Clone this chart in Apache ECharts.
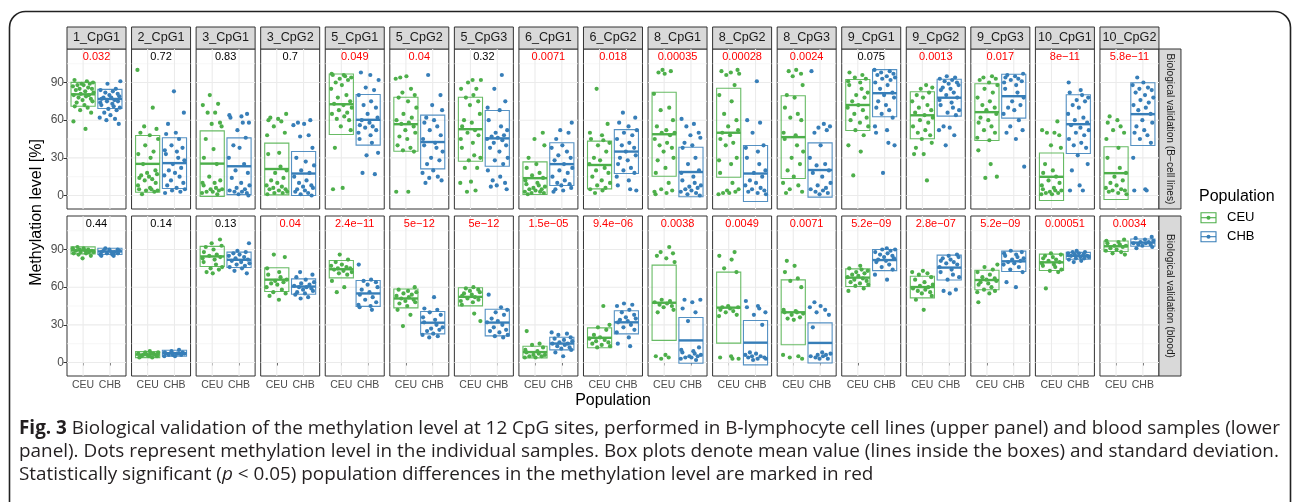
<!DOCTYPE html>
<html><head><meta charset="utf-8">
<script src="https://cdn.jsdelivr.net/npm/echarts@6/dist/echarts.min.js"></script>
<style>html,body{margin:0;padding:0;background:#fff}#c{width:1293px;height:502px}</style>
</head><body><div id="c"></div>
<script>
// ---------------- DATA ----------------
const SITES = ['1_CpG1','2_CpG1','3_CpG1','3_CpG2','5_CpG1','5_CpG2','5_CpG3','6_CpG1','6_CpG2','8_CpG1','8_CpG2','8_CpG3','9_CpG1','9_CpG2','9_CpG3','10_CpG1','10_CpG2'];
const ROWS = ['Biological validation (B\u2212cell lines)', 'Biological validation (blood)'];
const POPS = ['CEU', 'CHB'];
const Y_TICKS = [0, 30, 60, 90];
const Y_MINOR = [15, 45, 75, 105];

const P_BCELL = ['0.032','0.72','0.83','0.7','0.049','0.04','0.32','0.0071','0.018','0.00035','0.00028','0.0024','0.075','0.0013','0.017','8e\u221211','5.8e\u221211'];
const P_BLOOD = ['0.44','0.14','0.13','0.04','2.4e\u221211','5e\u221212','5e\u221212','1.5e\u221205','9.4e\u221206','0.0038','0.0049','0.0071','5.2e\u221209','2.8e\u221207','5.2e\u221209','0.00051','0.0034'];

// mean and standard deviation (box = mean +/- sd, line = mean)
const CEU_BCELL_MEAN = [80.6,25.2,25.4,21.1,72.7,56.8,52.8,13.8,24.3,48.8,50.0,46.5,72.1,63.9,66.4,14.9,17.8];
const CEU_BCELL_SD   = [9.5,22.6,26.1,20.6,24.1,21.5,25.5,13.0,19.0,33.5,35.4,33.0,20.3,18.7,22.6,18.9,21.0];
const CHB_BCELL_MEAN = [76.9,25.8,23.3,17.5,60.3,42.6,45.5,25.0,35.0,18.7,17.5,20.3,81.5,77.9,79.1,56.8,64.8];
const CHB_BCELL_SD   = [7.6,20.2,22.6,17.5,20.2,21.4,22.2,17.0,17.5,19.7,22.3,21.6,18.8,14.7,17.5,23.4,25.0];
const CEU_BLOOD_MEAN = [89.3,6.3,84.5,66.0,74.3,51.0,52.3,8.3,19.7,47.6,43.7,40.0,67.6,60.1,65.7,79.8,92.6];
const CEU_BLOOD_SD   = [2.8,2.4,8.0,9.5,6.9,7.5,7.2,4.6,7.9,30.0,28.3,25.8,7.0,8.6,7.8,6.5,4.2];
const CHB_BLOOD_MEAN = [88.5,7.4,81.8,60.5,55.0,31.7,31.8,15.1,32.0,17.6,15.8,15.6,81.6,75.6,80.6,85.0,95.5];
const CHB_BLOOD_SD   = [2.5,2.4,6.1,6.1,10.3,8.9,10.6,5.0,9.2,18.2,17.7,16.0,8.4,9.9,8.1,2.7,2.9];

// individual samples
const CEU_BCELL_PTS = [
 [92,91,90,89,89,88,88,87,86,85,85,84,83,82,81,80,80,79,78,77,76,75,74,72,71,70,68,66,59,53],
 [100,70,55,53,50,48,45,40,35,33,30,25,20,18,17,16,15,14,13,12,10,8,6,5,5,4,4,3,1],
 [80,73,72,66,66,58,57,55,45,37,30,25,15,12,10,10,8,6,5,5,4,3,3,2,1],
 [65,62,61,60,59,55,50,48,34,33,23,20,18,14,12,10,8,7,6,5,5,4,3,2,2,1],
 [97,96,96,95,94,93,92,90,88,85,80,78,75,73,72,70,68,66,65,63,61,60,55,52,38,6,5],
 [94,95,93,85,82,80,78,75,70,65,62,60,58,57,55,52,50,47,45,40,38,36,35,3,3],
 [92,92,90,85,85,80,78,75,72,65,60,58,55,52,50,48,45,42,38,32,30,28,22,22,11,10,4,3],
 [50,45,40,30,25,22,18,16,14,12,10,9,8,7,6,5,5,4,3,3,2,2,1],
 [85,57,50,48,45,44,42,40,35,30,28,25,22,20,18,15,12,10,8,6,5,4,2],
 [100,99,98,97,81,70,68,60,55,52,50,50,48,45,42,40,38,35,30,28,22,18,10,5,4,3,2,1],
 [100,99,98,97,96,88,80,75,65,60,55,52,50,48,45,42,40,30,28,25,18,10,5,4,3,2,2,1],
 [100,99,97,95,88,80,78,70,65,62,60,50,48,45,40,35,30,25,20,15,10,8,5,3,2],
 [98,96,94,93,91,90,88,85,82,80,78,75,72,70,68,65,62,60,58,55,52,48,40,35,16],
 [88,86,85,82,80,78,75,72,70,68,66,64,62,60,58,55,52,50,48,45,42,38,33,33,12],
 [95,94,93,92,90,88,85,82,78,75,72,70,68,65,62,60,58,55,52,50,46,44,36,25,15,14],
 [59,52,50,50,48,40,38,25,20,18,15,12,10,8,6,5,4,4,3,2,2,1,1],
 [63,60,58,55,52,50,45,38,30,22,18,15,12,10,8,6,5,4,4,3,2,1]
];
const CHB_BCELL_PTS = [
 [91,89,85,84,83,82,81,80,79,78,78,77,76,75,75,74,73,72,71,70,69,68,66,64,62,61,60,57],
 [83,66,57,50,49,45,40,38,36,35,33,30,28,25,22,20,18,16,15,12,10,8,6,5,4,3,2],
 [65,64,63,62,58,58,52,46,40,38,30,25,20,18,14,10,8,6,5,4,3,3,2,1,0],
 [60,58,57,56,48,47,38,30,27,24,20,18,15,12,10,8,7,6,5,4,3,2,1,0],
 [98,96,92,86,84,80,75,72,70,65,62,60,58,56,55,54,52,50,48,45,42,34,32,17,18],
 [96,80,72,68,62,60,58,55,52,48,45,42,40,38,35,30,28,25,20,18,15,14,12,10],
 [96,85,75,70,68,60,55,52,50,48,47,46,45,44,42,40,38,35,30,28,25,20,15,12,10,8,5,7],
 [58,52,50,45,40,38,35,32,30,28,25,22,20,18,15,12,10,9,8,6,5,4,3],
 [66,62,58,55,52,50,48,45,42,40,38,35,32,30,28,25,22,20,18,15,12,8,5,4],
 [61,57,55,50,48,46,42,40,38,30,25,20,18,15,12,10,8,7,6,5,4,3,2,1,0],
 [91,60,58,50,40,38,35,30,25,20,18,15,12,10,8,6,5,4,3,2,1],
 [99,57,55,54,52,50,40,30,25,24,20,18,15,10,8,6,5,4,3,2,1],
 [100,99,98,97,96,95,94,93,92,90,88,85,82,80,78,75,72,70,68,65,62,55,52,50,42,40,18],
 [95,94,93,92,91,90,89,88,86,85,84,82,80,78,76,74,72,70,68,66,64,55,54,52,48,40],
 [97,96,95,94,93,92,91,90,88,85,82,78,75,72,70,68,65,60,55,52,50,45,23],
 [90,84,82,80,78,76,75,72,70,65,62,60,58,56,54,52,50,48,45,42,40,38,32,25,20,8,4,4],
 [94,90,88,86,85,84,82,80,78,76,74,72,70,68,65,60,58,55,52,50,48,45,42,30,5,4,4]
];
const CEU_BLOOD_PTS = [
 [92,91,91,90,90,89,89,89,88,88,88,87,87,86,85,83],
 [9,8,8,7,7,7,6,6,6,5,5,5,4,4],
 [98,95,93,92,90,88,86,85,84,83,82,80,78,76,75,74,72,71],
 [86,84,75,72,70,68,66,65,64,63,62,60,58,56,55,53,50],
 [86,82,80,78,77,76,75,75,74,73,72,71,70,65,60,56],
 [60,58,57,56,55,54,53,52,51,50,49,48,47,45,42,38,29],
 [60,59,58,57,56,55,54,53,52,51,50,49,48,46,39,33],
 [25,15,14,12,10,9,8,7,6,6,5,5,4,4],
 [45,30,28,26,22,20,19,18,17,16,15,14,13,12],
 [92,88,87,85,83,80,50,49,48,47,46,45,44,42,40,6,5,4,3],
 [88,85,82,75,72,45,44,44,43,42,41,40,38,37,5,4,3,3],
 [81,77,72,67,65,60,42,41,40,40,39,38,36,35,34,6,5,4,3],
 [77,75,74,73,72,71,70,69,68,67,66,65,64,63,62,61,59,57],
 [73,72,71,70,68,66,64,62,61,60,59,58,57,56,55,53,50,42],
 [78,76,74,72,70,68,67,66,65,64,63,62,60,58,57,56,55,48],
 [87,86,85,84,83,82,81,80,79,78,77,76,74,73,72,59],
 [98,97,96,95,94,93,93,92,91,90,89,88,87,86]
];
const CHB_BLOOD_PTS = [
 [91,90,90,89,89,88,88,88,87,87,86,86,85,85],
 [10,9,8,8,7,7,7,7,6,6,6,5,5],
 [95,89,88,87,86,85,84,83,82,81,80,79,78,77,76,75,73,71],
 [72,70,68,66,64,63,62,61,60,60,59,58,57,56,55,54,52,51],
 [78,66,65,64,62,60,58,56,54,52,50,48,46,45,44,42],
 [52,43,42,40,38,36,34,32,30,28,27,26,25,23,22,21,20],
 [54,44,42,40,38,35,33,32,30,28,26,25,24,22,21,20],
 [24,23,22,20,19,18,17,16,15,15,14,13,12,11,10,8,5],
 [47,46,45,42,40,38,36,35,34,33,32,30,28,26,24,20,15,13],
 [50,50,48,43,40,33,12,10,9,8,7,6,5,5,4,4,3,2],
 [49,45,44,43,40,38,30,8,7,6,5,5,4,4,3,3,2],
 [48,45,44,42,40,38,28,8,7,6,6,5,5,4,3,3],
 [91,90,90,89,88,87,86,85,84,83,82,81,80,78,76,74,70,66],
 [86,85,84,83,82,81,80,79,78,76,74,72,70,68,66,58,57,55],
 [89,88,87,86,85,84,83,82,81,80,79,78,76,74,72,64,60],
 [89,88,88,87,87,86,86,85,85,84,84,83,83,82,81,80],
 [100,99,98,97,96,96,95,95,94,94,93,92,91]
];

const CAPTION_1 = ' Biological validation of the methylation level at 12 CpG sites, performed in B-lymphocyte cell lines (upper panel) and blood samples (lower';
const CAPTION_2 = 'panel). Dots represent methylation level in the individual samples. Box plots denote mean value (lines inside the boxes) and standard deviation.';
const CAPTION_3a = 'Statistically significant (';
const CAPTION_3b = ' < 0.05) population differences in the methylation level are marked in red';

// ---------------- STYLE / LAYOUT ----------------
const COLORS = ['#4DAF4A', '#377EB8'];
const FONT = '"Liberation Sans", Arial, Helvetica, sans-serif';
const CAP_FONT = '"Open Sans", "Noto Sans", sans-serif';
const CAP_SIZE = 18.9;
const L = { left: 67, pitch: 64.56, pw: 59, rowTop: [49, 216], rowH: 160, stripH: 22, rStripW: 22 };
const Y_MIN = -10.75, Y_MAX = 116.7, X_MIN = 0.4, X_MAX = 2.6, BOX_HALF = 0.45, P_Y = 110.6;
// fixed jitter pattern (horizontal spread of dots inside each group)
const JITTER = [-0.32,0.14,0.37,-0.06,0.25,-0.21,0.02,-0.38,0.19,-0.13,0.33,-0.27,0.08,0.39,-0.09,0.22,-0.35,0.11,-0.17,0.29,-0.02,0.35,-0.24,0.05,-0.31,0.17,-0.11,0.3,-0.36,0.09];

const P_ROWS = [P_BCELL, P_BLOOD];
const MEANS = [[CEU_BCELL_MEAN, CHB_BCELL_MEAN], [CEU_BLOOD_MEAN, CHB_BLOOD_MEAN]];
const SDS = [[CEU_BCELL_SD, CHB_BCELL_SD], [CEU_BLOOD_SD, CHB_BLOOD_SD]];
const PTS = [[CEU_BCELL_PTS, CHB_BCELL_PTS], [CEU_BLOOD_PTS, CHB_BLOOD_PTS]];

const GRIDLINES = [
  ...Y_TICKS.map(v => [1, v, 0]),
  ...Y_MINOR.map(v => [1, v, 1]),
  ...[1, 2].map(v => [v, 0, 2])
];

function gridRender(params, api) {
  const t = api.value(2), cs = params.coordSys;
  if (t < 2) {
    const y = api.coord([1, api.value(1)])[1];
    return { type: 'line', shape: { x1: cs.x, y1: y, x2: cs.x + cs.width, y2: y },
      style: { stroke: t === 0 ? '#EBEBEB' : '#F4F4F4', lineWidth: t === 0 ? 1.1 : 0.7 } };
  }
  const x = api.coord([api.value(0), 0])[0];
  return { type: 'line', shape: { x1: x, y1: cs.y, x2: x, y2: cs.y + cs.height },
    style: { stroke: '#EBEBEB', lineWidth: 1.1 } };
}
function boxRender(params, api) {
  const x = api.value(0), m = api.value(1), s = api.value(2), g = api.value(3);
  const tl = api.coord([x - BOX_HALF, m + s]);
  const br = api.coord([x + BOX_HALF, m - s]);
  const ml = api.coord([x - BOX_HALF, m]);
  const mr = api.coord([x + BOX_HALF, m]);
  const col = COLORS[g];
  return { type: 'group', children: [
    { type: 'rect', shape: { x: tl[0], y: tl[1], width: br[0] - tl[0], height: br[1] - tl[1] },
      style: { fill: 'none', stroke: col, lineWidth: 1.1, opacity: 0.85 } },
    { type: 'line', shape: { x1: ml[0], y1: ml[1], x2: mr[0], y2: mr[1] },
      style: { stroke: col, lineWidth: 2.4 } }
  ]};
}

const grids = [], xAxes = [], yAxes = [], series = [], gfx = [];

ROWS.forEach((rowName, r) => {
  SITES.forEach((site, c) => {
    const i = r * SITES.length + c;
    const left = L.left + c * L.pitch;
    grids.push({ left: left, top: L.rowTop[r], width: L.pw, height: L.rowH, show: true,
      borderColor: '#333333', borderWidth: 1, backgroundColor: 'rgba(0,0,0,0)',
      containLabel: false, outerBoundsMode: 'none' });
    const bottom = r === ROWS.length - 1;
    xAxes.push({ type: 'value', gridIndex: i, min: X_MIN, max: X_MAX,
      splitLine: { show: false }, axisLine: { show: false },
      axisTick: bottom ? { show: true, customValues: [1, 2], length: 3, lineStyle: { color: '#333333', width: 1 } } : { show: false },
      axisLabel: bottom ? { show: true, customValues: [1, 2], formatter: v => POPS[Math.round(v) - 1],
        color: '#4D4D4D', fontSize: 10.5, fontFamily: FONT, margin: 4 } : { show: false } });
    const first = c === 0;
    yAxes.push({ type: 'value', gridIndex: i, min: Y_MIN, max: Y_MAX,
      splitLine: { show: false }, axisLine: { show: false },
      axisTick: first ? { show: true, customValues: Y_TICKS, length: 3.5, lineStyle: { color: '#333333', width: 1 } } : { show: false },
      axisLabel: first ? { show: true, customValues: Y_TICKS, color: '#4D4D4D', fontSize: 12, fontFamily: FONT, margin: 3 } : { show: false } });

    series.push({ type: 'custom', xAxisIndex: i, yAxisIndex: i, silent: true, z: 1,
      data: GRIDLINES, renderItem: gridRender });
    series.push({ type: 'custom', xAxisIndex: i, yAxisIndex: i, silent: true, z: 3,
      data: [0, 1].map(g => [g + 1, MEANS[r][g][c], SDS[r][g][c], g]), renderItem: boxRender });
    [0, 1].forEach(g => {
      const pts = PTS[r][g][c];
      series.push({ type: 'scatter', xAxisIndex: i, yAxisIndex: i, silent: true, z: 4,
        symbolSize: 4.2, itemStyle: { color: COLORS[g], opacity: 1 },
        data: pts.map((v, k) => [g + 1 + JITTER[(k + c * 7 + g * 13 + r * 5) % JITTER.length], v]) });
    });
    const pTxt = P_ROWS[r][c];
    const pNum = parseFloat(pTxt.replace('\u2212', '-'));
    series.push({ type: 'custom', xAxisIndex: i, yAxisIndex: i, silent: true, z: 5,
      data: [[1.5, P_Y]],
      renderItem: (params, api) => {
        const p = api.coord([api.value(0), api.value(1)]);
        return { type: 'text', x: p[0], y: p[1], style: { text: pTxt, fill: pNum < 0.05 ? '#FF0000' : '#000000',
          font: '11px ' + FONT, textAlign: 'center', textVerticalAlign: 'middle', align: 'center', verticalAlign: 'middle' } };
      } });

    if (r === 0) {
      gfx.push({ type: 'rect', shape: { x: left, y: L.rowTop[0] - L.stripH, width: L.pw, height: L.stripH },
        style: { fill: '#D9D9D9', stroke: '#333333', lineWidth: 1 } });
      gfx.push({ type: 'text', x: left + L.pw / 2, y: L.rowTop[0] - L.stripH / 2,
        style: { text: site, fill: '#1A1A1A', font: '12.6px ' + FONT, textAlign: 'center', textVerticalAlign: 'middle', align: 'center', verticalAlign: 'middle' } });
    }
  });
  // right strip
  const sx = L.left + (SITES.length - 1) * L.pitch + L.pw;
  gfx.push({ type: 'rect', shape: { x: sx, y: L.rowTop[r], width: L.rStripW, height: L.rowH },
    style: { fill: '#D9D9D9', stroke: '#333333', lineWidth: 1 } });
  gfx.push({ type: 'text', x: sx + L.rStripW / 2, y: L.rowTop[r] + L.rowH / 2, rotation: -Math.PI / 2,
    style: { text: rowName, fill: '#1A1A1A', font: '10.2px ' + FONT, textAlign: 'center', textVerticalAlign: 'middle', align: 'center', verticalAlign: 'middle' } });
});

const panelsMid = L.left + ((SITES.length - 1) * L.pitch + L.pw) / 2;
// axis titles
gfx.push({ type: 'text', x: 37, y: (L.rowTop[0] + L.rowTop[1] + L.rowH) / 2, rotation: Math.PI / 2,
  style: { text: 'Methylation level [%]', fill: '#000', font: '16px ' + FONT, textAlign: 'center', textVerticalAlign: 'middle', align: 'center', verticalAlign: 'middle' } });
gfx.push({ type: 'text', x: panelsMid, y: 401,
  style: { text: 'Population', fill: '#000', font: '16px ' + FONT, textAlign: 'center', textVerticalAlign: 'middle', align: 'center', verticalAlign: 'middle' } });
// legend
gfx.push({ type: 'text', x: 1199, y: 197,
  style: { text: 'Population', fill: '#000', font: '16px ' + FONT, textAlign: 'left', textVerticalAlign: 'middle', align: 'left', verticalAlign: 'middle' } });
POPS.forEach((p, g) => {
  const ky = 212.7 + g * 19;
  gfx.push({ type: 'rect', shape: { x: 1201, y: ky, width: 15, height: 10 }, style: { fill: '#fff', stroke: COLORS[g], lineWidth: 1.1 } });
  gfx.push({ type: 'line', shape: { x1: 1201, y1: ky + 5, x2: 1216, y2: ky + 5 }, style: { stroke: COLORS[g], lineWidth: 1.1 } });
  gfx.push({ type: 'circle', shape: { cx: 1208.5, cy: ky + 5, r: 2 }, style: { fill: COLORS[g] } });
  gfx.push({ type: 'text', x: 1227, y: ky + 5,
    style: { text: p, fill: '#000', font: '13px ' + FONT, textAlign: 'left', textVerticalAlign: 'middle', align: 'left', verticalAlign: 'middle' } });
});
// frame
gfx.push({ type: 'rect', shape: { x: 9.5, y: 11.5, width: 1281, height: 620, r: 16 },
  style: { fill: 'none', stroke: '#222', lineWidth: 1.6 } });
// caption
const capStyle = { fill: '#231F20', fontSize: CAP_SIZE, fontFamily: CAP_FONT, textAlign: 'left', textVerticalAlign: 'middle', align: 'left', verticalAlign: 'middle' };
gfx.push({ type: 'text', x: 19, y: 429, style: Object.assign({}, capStyle, { text: '{b|Fig. 3}' + CAPTION_1, rich: { b: { fontWeight: 'bold', fontSize: CAP_SIZE, fontFamily: CAP_FONT, fill: '#231F20' } } }) });
gfx.push({ type: 'text', x: 19, y: 452, style: Object.assign({}, capStyle, { text: CAPTION_2 }) });
gfx.push({ type: 'text', x: 19, y: 475, style: Object.assign({}, capStyle, { text: CAPTION_3a + '{i|p}' + CAPTION_3b, rich: { i: { fontStyle: 'italic', fontSize: CAP_SIZE, fontFamily: CAP_FONT, fill: '#231F20' } } }) });

const chart = echarts.init(document.getElementById('c'), null, { renderer: 'canvas' });
chart.setOption({
  animation: false,
  backgroundColor: '#ffffff',
  grid: grids, xAxis: xAxes, yAxis: yAxes, series: series,
  graphic: { elements: gfx }
});
</script></body></html>
